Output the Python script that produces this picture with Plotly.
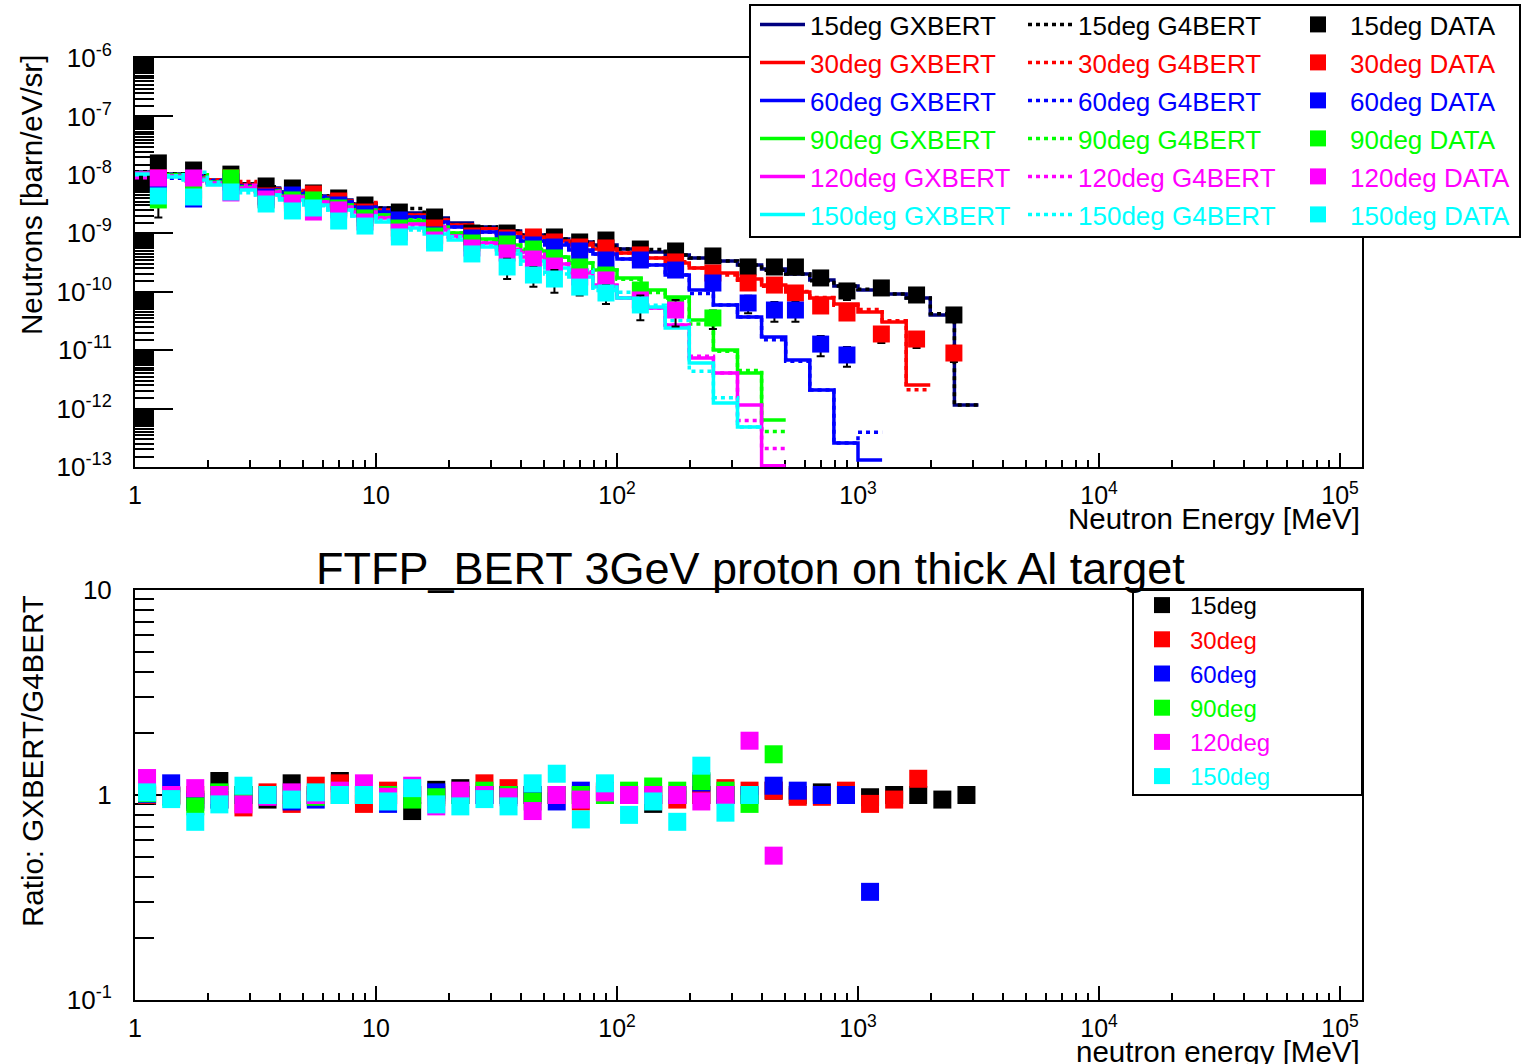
import plotly.graph_objects as go

W, H = 1525, 1064
FONT = "Liberation Sans, Arial, Helvetica, sans-serif"

angles = ["15deg", "30deg", "60deg", "90deg", "120deg", "150deg"]
gx_colors = ["#000080", "#ff0000", "#0000ff", "#00ff00", "#ff00ff", "#00ffff"]
g4_colors = ["#000000", "#ff0000", "#0000ff", "#00ff00", "#ff00ff", "#00ffff"]
pt_colors = ["#000000", "#ff0000", "#0000ff", "#00ff00", "#ff00ff", "#00ffff"]

# histogram bin edges [MeV]
bin_edges = [1.0, 1.259, 1.585, 1.995, 2.512, 3.162, 3.981, 5.012, 6.310, 7.943,
             10.0, 12.59, 15.85, 19.95, 25.12, 31.62, 39.81, 50.12, 63.10, 79.43,
             100.0, 125.9, 158.5, 199.5, 251.2, 316.2, 398.1, 501.2, 631.0, 794.3,
             1000.0, 1259.0, 1585.0, 1995.0, 2512.0, 3162.0]

# GXBERT histograms [barn/eV/sr]
gx_15 = [1.12e-8, 1.03e-8, 9.57e-9, 8.17e-9, 6.98e-9, 5.96e-9, 5.09e-9, 4.35e-9, 3.72e-9, 3.17e-9,
         2.71e-9, 2.22e-9, 1.83e-9, 1.50e-9, 1.28e-9, 1.09e-9, 9.35e-10, 7.98e-10, 7.10e-10, 6.31e-10,
         5.38e-10, 4.79e-10, 4.26e-10, 3.78e-10, 3.36e-10, 2.87e-10, 2.45e-10, 2.01e-10, 1.59e-10, 1.25e-10,
         1.07e-10, 9.14e-11, 7.82e-11, 4.00e-11, 1.15e-12]
gx_30 = [1.08e-8, 9.95e-9, 9.19e-9, 7.85e-9, 6.71e-9, 5.73e-9, 4.90e-9, 4.18e-9, 3.57e-9, 3.05e-9,
         2.51e-9, 2.06e-9, 1.69e-9, 1.39e-9, 1.19e-9, 1.01e-9, 8.65e-10, 7.38e-10, 6.31e-10, 5.38e-10,
         4.60e-10, 3.78e-10, 3.10e-10, 2.55e-10, 2.09e-10, 1.65e-10, 1.30e-10, 9.89e-11, 7.82e-11, 6.17e-11,
         4.50e-11, 3.03e-11, 2.53e-12]
gx_60 = [1.08e-8, 9.95e-9, 8.84e-9, 7.55e-9, 6.45e-9, 5.51e-9, 4.70e-9, 4.02e-9, 3.43e-9, 2.82e-9,
         2.31e-9, 1.90e-9, 1.56e-9, 1.28e-9, 1.05e-9, 8.65e-10, 7.38e-10, 6.31e-10, 5.18e-10, 4.43e-10,
         3.63e-10, 2.87e-10, 1.93e-10, 1.07e-10, 5.93e-11, 3.69e-11, 1.68e-11, 6.79e-12, 2.08e-12, 2.58e-13,
         1.32e-13]
gx_90 = [1.08e-8, 9.95e-9, 8.84e-9, 7.55e-9, 6.20e-9, 5.30e-9, 4.35e-9, 3.72e-9, 3.05e-9, 2.51e-9,
         2.06e-9, 1.62e-9, 1.28e-9, 1.01e-9, 7.98e-10, 6.31e-10, 4.98e-10, 3.93e-10, 3.10e-10, 2.35e-10,
         1.72e-10, 1.07e-10, 8.13e-11, 3.28e-11, 1.01e-11, 4.06e-12, 6.38e-13]
gx_120 = [1.08e-8, 9.57e-9, 8.50e-9, 7.26e-9, 5.96e-9, 5.09e-9, 4.18e-9, 3.43e-9, 2.82e-9, 2.31e-9,
          1.83e-9, 1.44e-9, 1.14e-9, 8.99e-10, 6.82e-10, 5.18e-10, 3.93e-10, 2.98e-10, 2.09e-10, 1.30e-10,
          7.82e-11, 5.27e-11, 2.70e-11, 7.34e-12, 4.06e-12, 1.15e-12, 1.05e-13]
gx_150 = [1.03e-8, 9.19e-9, 8.17e-9, 6.71e-9, 5.51e-9, 4.52e-9, 3.72e-9, 3.05e-9, 2.51e-9, 1.98e-9,
          1.56e-9, 1.23e-9, 9.73e-10, 7.67e-10, 5.82e-10, 4.43e-10, 3.36e-10, 2.55e-10, 1.79e-10, 1.20e-10,
          7.82e-11, 5.48e-11, 2.39e-11, 6.03e-12, 1.25e-12, 4.84e-13]

# ratio GXBERT/G4BERT per bin
ratio_15 = [0.99, 0.99, 0.95, 1.17, 1.0, 0.95, 1.14, 1.0, 1.17, 1.0,
            1.0, 0.835, 1.06, 1.08, 1.0, 1.0, 1.0, 1.0, 1.0, 1.05,
            1.0, 0.905, 1.0, 1.0, 1.0, 1.0, 1.05, 1.0, 1.03, 1.0,
            0.975, 1.0, 1.0, 0.95, 1.0]
ratio_30 = [1.0, 1.0, 1.0, 0.95, 0.87, 1.03, 0.905, 1.11, 1.14, 0.905,
            1.05, 1.0, 1.0, 1.0, 1.14, 1.08, 1.0, 1.0, 0.93, 1.03,
            1.0, 1.0, 0.95, 1.0, 1.08, 1.05, 1.05, 0.98, 0.98, 1.05,
            0.905, 0.95, 1.20]
ratio_60 = [1.01, 1.14, 0.925, 0.95, 1.0, 1.0, 0.93, 0.95, 1.0, 1.0,
            0.905, 1.0, 1.03, 1.0, 1.0, 1.0, 1.0, 0.93, 1.05, 1.0,
            1.0, 1.0, 1.0, 1.15, 1.0, 1.0, 1.11, 1.05, 1.0, 1.0,
            0.337]
ratio_90 = [1.02, 0.98, 0.88, 1.03, 1.0, 1.0, 1.0, 0.98, 1.0, 1.0,
            1.0, 0.95, 0.975, 1.0, 1.05, 1.0, 0.93, 1.0, 1.0, 1.0,
            1.05, 1.10, 1.05, 1.17, 1.05, 0.905, 1.58]
ratio_120 = [1.21, 1.0, 1.08, 1.0, 0.90, 0.98, 1.03, 1.0, 1.05, 1.14,
             0.98, 1.11, 0.88, 1.05, 1.0, 0.975, 0.835, 1.0, 0.95, 1.03,
             1.0, 1.0, 1.0, 0.93, 1.0, 1.84, 0.506]
ratio_150 = [1.03, 0.955, 0.74, 0.90, 1.11, 1.0, 0.95, 1.03, 1.0, 1.0,
             0.93, 1.08, 0.90, 0.88, 0.955, 0.88, 1.14, 1.27, 0.76, 1.14,
             0.80, 0.93, 0.74, 1.39, 0.82, 1.0]

# measured data
data_energy = [1.25, 1.75, 2.5, 3.5, 4.5, 5.5, 7, 9, 12.5, 17.5, 25, 35, 45, 55, 70, 90,
               125, 175, 250, 350, 450, 550, 700, 900, 1250, 1750, 2500]
data_15 = [1.60e-8, 1.21e-8, 1.03e-8, 6.45e-9, 5.96e-9, 4.90e-9, 4.02e-9, 3.05e-9, 2.31e-9, 1.90e-9,
           1.01e-9, 1.01e-9, 7.67e-10, 8.65e-10, 7.10e-10, 7.67e-10, 5.38e-10, 4.98e-10, 4.09e-10, 2.65e-10,
           2.65e-10, 2.65e-10, 1.72e-10, 1.03e-10, 1.16e-10, 8.79e-11, 4.00e-11]
data_30 = [8.84e-9, 8.17e-9, 8.84e-9, 4.35e-9, 4.18e-9, 4.70e-9, 3.57e-9, 2.31e-9, 1.56e-9, 1.23e-9,
           8.99e-10, 8.30e-10, 8.65e-10, 7.10e-10, 5.82e-10, 5.60e-10, 4.26e-10, 3.23e-10, 2.09e-10, 1.41e-10,
           1.30e-10, 9.51e-11, 5.70e-11, 4.32e-11, 1.89e-11, 1.55e-11, 8.93e-12]
data_60 = [6.71e-9, 3.86e-9, 7.55e-9, 4.18e-9, 4.52e-9, 3.43e-9, 3.05e-9, 2.14e-9, 1.69e-9, 9.35e-10,
           8.30e-10, 7.67e-10, 6.31e-10, 5.82e-10, 4.98e-10, 3.49e-10, 3.49e-10, 2.35e-10, 1.41e-10, 6.41e-11,
           4.86e-11, 4.86e-11, 1.27e-11, 8.26e-12]
data_90 = [3.72e-9, 5.51e-9, 8.84e-9, 3.72e-9, 3.72e-9, 3.72e-9, 2.71e-9, 1.83e-9, 1.23e-9, 8.99e-10,
           6.82e-10, 6.56e-10, 5.38e-10, 3.78e-10, 2.65e-10, 1.93e-10, 1.07e-10, 5.93e-11, 3.55e-11]
data_120 = [8.84e-9, 8.84e-9, 4.90e-9, 3.86e-9, 3.30e-9, 2.31e-9, 2.51e-9, 1.56e-9, 1.05e-9, 7.67e-10,
            5.60e-10, 4.60e-10, 3.63e-10, 2.75e-10, 1.79e-10, 1.59e-10, 7.22e-11, 4.86e-11]
data_150 = [4.35e-9, 4.18e-9, 5.09e-9, 3.17e-9, 2.41e-9, 2.71e-9, 1.62e-9, 1.33e-9, 8.65e-10, 6.82e-10,
            4.43e-10, 2.65e-10, 1.93e-10, 1.65e-10, 1.20e-10, 9.51e-11, 5.93e-11]

# relative errors of the data
relerr_15 = [0.1] * 23 + [0.3] + [0.1] * 3
relerr_30 = [0.1] * 24 + [0.3, 0.3, 0.3]
relerr_60 = [0.1] * 19 + [0.33, 0.37, 0.37, 0.38, 0.37]
relerr_90 = [0.5] + [0.1] * 17 + [0.35]
relerr_120 = [0.1] * 17 + [0.48]
relerr_150 = [0.1] * 11 + [0.38, 0.37, 0.42, 0.28, 0.35, 0.45]

gx_all = [gx_15, gx_30, gx_60, gx_90, gx_120, gx_150]
ratio_all = [ratio_15, ratio_30, ratio_60, ratio_90, ratio_120, ratio_150]
data_all = [data_15, data_30, data_60, data_90, data_120, data_150]
relerr_all = [relerr_15, relerr_30, relerr_60, relerr_90, relerr_120, relerr_150]


def px(x):
    return x / W


def py(y):
    return 1 - y / H


def colored(text, color):
    return "<span style='color:%s'>%s</span>" % (color, text)


fig = go.Figure()

# histograms (GXBERT solid, G4BERT dotted)
for a, gx, rt, cgx, cg4, ctx in zip(angles, gx_all, ratio_all, gx_colors, g4_colors, pt_colors):
    n = len(gx)
    xs = bin_edges[:n + 1]
    g4 = [g / r for g, r in zip(gx, rt)]
    fig.add_trace(go.Scatter(
        x=xs, y=gx + [gx[-1]], mode="lines",
        line=dict(color=cgx, width=3.5, shape="hv"),
        name=colored(a + " GXBERT", ctx), legend="legend", legendgroup="gx" + a,
        xaxis="x", yaxis="y", showlegend=True))
    fig.add_trace(go.Scatter(
        x=xs, y=g4 + [g4[-1]], mode="lines",
        line=dict(color=cg4, width=3.5, shape="hv", dash="4px,4px"),
        name=colored(a + " G4BERT", ctx), legend="legend2", legendgroup="g4" + a,
        xaxis="x", yaxis="y", showlegend=True))

# data points
for a, d, re, c in zip(angles, data_all, relerr_all, pt_colors):
    n = len(d)
    fig.add_trace(go.Scatter(
        x=data_energy[:n], y=d, mode="markers",
        marker=dict(symbol="square", size=17, color=c, line=dict(width=0)),
        error_y=dict(type="data", array=[v * e for v, e in zip(d, re)],
                     color="black", thickness=2, width=4),
        name=colored(a + " DATA", c), legend="legend3", legendgroup="d" + a,
        xaxis="x", yaxis="y"))

# ratio points
for a, rt, c in zip(angles, ratio_all, pt_colors):
    n = len(rt)
    centers = [(bin_edges[k] * bin_edges[k + 1]) ** 0.5 for k in range(n)]
    fig.add_trace(go.Scatter(
        x=centers, y=rt, mode="markers",
        marker=dict(symbol="square", size=18, color=c, line=dict(width=0)),
        name=colored(a, c), legend="legend4", legendgroup="r" + a,
        xaxis="x2", yaxis="y2"))

xt_vals = [1, 10, 100, 1000, 1e4, 1e5]
xt_text = ["1", "10", "10<sup>2</sup>", "10<sup>3</sup>", "10<sup>4</sup>", "10<sup>5</sup>"]
minor_x = [m * 10 ** d for d in range(0, 5) for m in range(2, 10)]

yt_vals = [10.0 ** e for e in range(-13, -5)]
yt_text = ["10<sup>%d</sup>" % e for e in range(-13, -5)]
minor_y = [m / 2 * 10.0 ** d for d in range(-13, -6) for m in range(3, 20)]

y2_vals = [0.1, 1, 10]
y2_text = ["10<sup>-1</sup>", "1", "10"]
minor_y2 = [m * 10.0 ** d for d in (-1, 0) for m in range(2, 10)]

x_dom = [px(135), px(1362)]
common_x = dict(type="log", range=[0, 5.0913], domain=x_dom, tickmode="array",
                tickvals=xt_vals, ticktext=xt_text, ticks="inside", ticklen=14,
                tickwidth=2, tickcolor="black", showline=True, linewidth=2,
                linecolor="black", mirror=True, showgrid=False, zeroline=False,
                automargin=False,
                tickfont=dict(family=FONT, size=25, color="black"),
                ticklabelstandoff=5, layer="below traces",
                minor=dict(tickmode="array", tickvals=minor_x, ticks="inside",
                           ticklen=7, tickwidth=2, tickcolor="black", showgrid=False))
common_y = dict(type="log", tickmode="array", ticks="inside", ticklen=38,
                tickwidth=2, tickcolor="black", showline=True, linewidth=2,
                linecolor="black", mirror=True, showgrid=False, zeroline=False,
                automargin=False,
                tickfont=dict(family=FONT, size=26, color="black"),
                ticklabelstandoff=16, layer="below traces")

leg_common = dict(bgcolor="rgba(0,0,0,0)", borderwidth=0, xanchor="left", yanchor="top",
                  orientation="v", traceorder="grouped")
leg_font_top = dict(family=FONT, size=26, color="black")

fig.update_layout(
    width=W, height=H, margin=dict(l=0, r=0, t=0, b=0, autoexpand=False),
    paper_bgcolor="white", plot_bgcolor="white",
    font=dict(family=FONT, color="black"),
    xaxis=dict(anchor="y", **common_x),
    yaxis=dict(anchor="x", domain=[py(467), py(58)], range=[-13, -6],
               tickvals=yt_vals, ticktext=yt_text,
               minor=dict(tickmode="array", tickvals=minor_y, ticks="inside",
                          ticklen=19, tickwidth=2, tickcolor="black", showgrid=False),
               **common_y),
    xaxis2=dict(anchor="y2", **common_x),
    yaxis2=dict(anchor="x2", domain=[py(1000), py(590)], range=[-1, 1],
                tickvals=y2_vals, ticktext=y2_text,
                minor=dict(tickmode="array", tickvals=minor_y2, ticks="inside",
                           ticklen=19, tickwidth=2, tickcolor="black", showgrid=False),
                **common_y),
    legend=dict(x=px(755), y=py(1), itemwidth=45, tracegroupgap=1.2,
                font=leg_font_top, **leg_common),
    legend2=dict(x=px(1023), y=py(1), itemwidth=45, tracegroupgap=1.2,
                 font=leg_font_top, **leg_common),
    legend3=dict(x=px(1286), y=py(1), itemwidth=54, tracegroupgap=1.2,
                 font=leg_font_top, **leg_common),
    legend4=dict(x=px(1134), y=py(583), itemwidth=46, tracegroupgap=0,
                 font=dict(family=FONT, size=24, color="black"), **leg_common),
    shapes=[
        dict(type="rect", xref="paper", yref="paper", x0=px(750), x1=px(1520),
             y0=py(237), y1=py(5), line=dict(color="black", width=2),
             fillcolor="white", layer="above"),
        dict(type="rect", xref="paper", yref="paper", x0=px(1133), x1=px(1362),
             y0=py(795), y1=py(590), line=dict(color="black", width=2),
             fillcolor="white", layer="above"),
    ],
    annotations=[
        dict(text="FTFP_BERT 3GeV proton on thick Al target", xref="paper", yref="paper",
             x=px(750), y=py(568), xanchor="center", yanchor="middle", showarrow=False,
             font=dict(family=FONT, size=45, color="black")),
        dict(text="Neutron Energy [MeV]", xref="paper", yref="paper",
             x=px(1362), y=py(519), xanchor="right", yanchor="middle", showarrow=False,
             font=dict(family=FONT, size=29.5, color="black")),
        dict(text="neutron energy [MeV]", xref="paper", yref="paper",
             x=px(1362), y=py(1033), xanchor="right", yanchor="top", showarrow=False,
             font=dict(family=FONT, size=29.5, color="black")),
        dict(text="Neutrons [barn/eV/sr]", xref="paper", yref="paper", textangle=-90,
             x=px(31), y=py(53), xanchor="center", yanchor="top", showarrow=False,
             font=dict(family=FONT, size=29.5, color="black")),
        dict(text="Ratio: GXBERT/G4BERT", xref="paper", yref="paper", textangle=-90,
             x=px(32), y=py(593), xanchor="center", yanchor="top", showarrow=False,
             font=dict(family=FONT, size=29.5, color="black")),
    ],
)

fig.write_html("out.html", config={"displayModeBar": False},
               post_script="document.body.style.margin='0';document.body.style.overflow='hidden';")
